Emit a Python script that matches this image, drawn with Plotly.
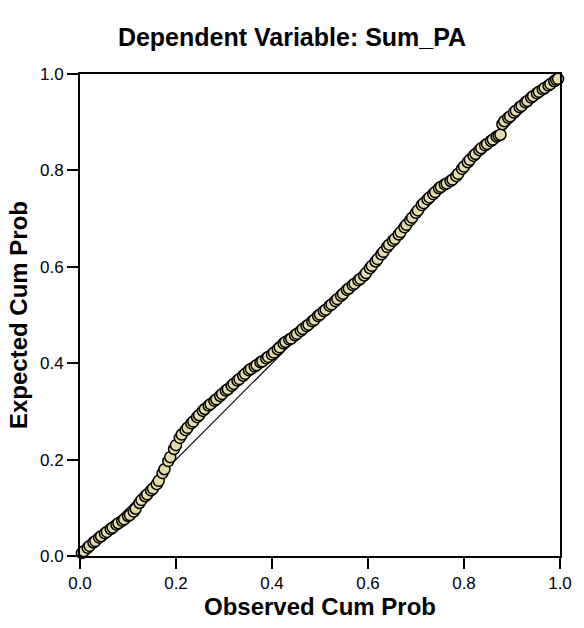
import plotly.graph_objects as go

observed_cum_prob = [
    0.004, 0.008, 0.016, 0.020, 0.028, 0.032, 0.040, 0.044, 0.052, 0.056,
    0.064, 0.068, 0.076, 0.080, 0.088, 0.092, 0.100, 0.104, 0.112, 0.116,
    0.124, 0.128, 0.136, 0.140, 0.148, 0.152, 0.160, 0.164, 0.172, 0.176,
    0.184, 0.188, 0.196, 0.200, 0.208, 0.212, 0.220, 0.224, 0.232, 0.236,
    0.244, 0.248, 0.256, 0.260, 0.268, 0.272, 0.280, 0.284, 0.292, 0.296,
    0.304, 0.308, 0.316, 0.320, 0.328, 0.332, 0.340, 0.344, 0.352, 0.356,
    0.364, 0.368, 0.376, 0.380, 0.388, 0.392, 0.400, 0.404, 0.412, 0.416,
    0.424, 0.428, 0.436, 0.440, 0.448, 0.452, 0.460, 0.464, 0.472, 0.476,
    0.484, 0.488, 0.496, 0.500, 0.508, 0.512, 0.520, 0.524, 0.532, 0.536,
    0.544, 0.548, 0.556, 0.560, 0.568, 0.572, 0.580, 0.584, 0.592, 0.596,
    0.604, 0.608, 0.616, 0.620, 0.628, 0.632, 0.640, 0.644, 0.652, 0.656,
    0.664, 0.668, 0.676, 0.680, 0.688, 0.692, 0.700, 0.704, 0.712, 0.716,
    0.724, 0.728, 0.736, 0.740, 0.748, 0.752, 0.760, 0.764, 0.772, 0.776,
    0.784, 0.788, 0.796, 0.800, 0.808, 0.812, 0.820, 0.824, 0.832, 0.836,
    0.844, 0.848, 0.856, 0.860, 0.868, 0.872, 0.876, 0.880, 0.884, 0.892,
    0.896, 0.904, 0.908, 0.916, 0.920, 0.928, 0.932, 0.940, 0.944, 0.952,
    0.956, 0.964, 0.968, 0.976, 0.980, 0.988, 0.992, 0.996,
]

expected_cum_prob = [
    0.006, 0.010, 0.017, 0.021, 0.028, 0.031, 0.038, 0.041, 0.047, 0.050,
    0.056, 0.059, 0.065, 0.068, 0.073, 0.076, 0.083, 0.085, 0.092, 0.098,
    0.110, 0.116, 0.124, 0.128, 0.136, 0.140, 0.149, 0.156, 0.172, 0.180,
    0.197, 0.205, 0.222, 0.230, 0.245, 0.252, 0.261, 0.266, 0.275, 0.279,
    0.288, 0.292, 0.301, 0.305, 0.312, 0.315, 0.322, 0.325, 0.332, 0.336,
    0.343, 0.346, 0.353, 0.357, 0.364, 0.367, 0.374, 0.378, 0.385, 0.388,
    0.393, 0.396, 0.402, 0.404, 0.410, 0.413, 0.418, 0.422, 0.429, 0.433,
    0.441, 0.444, 0.449, 0.451, 0.458, 0.461, 0.467, 0.471, 0.477, 0.480,
    0.487, 0.490, 0.498, 0.501, 0.508, 0.511, 0.519, 0.522, 0.529, 0.533,
    0.540, 0.544, 0.552, 0.555, 0.562, 0.565, 0.572, 0.575, 0.582, 0.587,
    0.597, 0.602, 0.611, 0.616, 0.626, 0.631, 0.641, 0.646, 0.654, 0.658,
    0.667, 0.672, 0.682, 0.687, 0.697, 0.702, 0.712, 0.717, 0.728, 0.732,
    0.740, 0.744, 0.751, 0.755, 0.763, 0.766, 0.771, 0.773, 0.778, 0.781,
    0.788, 0.793, 0.803, 0.808, 0.817, 0.822, 0.830, 0.834, 0.842, 0.846,
    0.852, 0.855, 0.861, 0.864, 0.870, 0.872, 0.874, 0.896, 0.902, 0.909,
    0.912, 0.920, 0.924, 0.931, 0.934, 0.941, 0.944, 0.951, 0.954, 0.960,
    0.963, 0.968, 0.971, 0.976, 0.979, 0.985, 0.988, 0.990,
]

ref_line = [0.0, 1.0]
tick_vals = [0.0, 0.2, 0.4, 0.6, 0.8, 1.0]
tick_text = ["0.0", "0.2", "0.4", "0.6", "0.8", "1.0"]

FONT = "Liberation Sans, Arial, Helvetica, sans-serif"

fig = go.Figure()
fig.add_trace(go.Scatter(
    x=ref_line, y=ref_line, mode="lines",
    line=dict(color="black", width=1.2),
    hoverinfo="skip", showlegend=False, cliponaxis=False,
))
fig.add_trace(go.Scatter(
    x=observed_cum_prob, y=expected_cum_prob, mode="markers",
    marker=dict(size=11, color="#e3dcaa", line=dict(color="black", width=1.5)),
    showlegend=False, cliponaxis=False,
))

axis_common = dict(
    range=[0, 1], tickvals=tick_vals, ticktext=tick_text,
    showgrid=False, zeroline=False, showline=True, mirror=True,
    linecolor="black", linewidth=2, ticks="outside", ticklen=11,
    tickwidth=2, tickcolor="black",
    tickfont=dict(family=FONT, size=17, color="black"),
)

fig.update_layout(
    width=584, height=628,
    margin=dict(l=80, r=14, t=74, b=64),
    paper_bgcolor="white", plot_bgcolor="white",
    title=dict(
        text="<b>Dependent Variable: Sum_PA</b>",
        x=0.5, xanchor="center", y=0.94, yanchor="middle",
        font=dict(family=FONT, size=25, color="black"),
    ),
    xaxis=dict(
        title=dict(text="<b>Observed Cum Prob</b>", standoff=6,
                   font=dict(family=FONT, size=24, color="black")),
        **axis_common,
    ),
    yaxis=dict(
        title=dict(text="<b>Expected Cum Prob</b>", standoff=6,
                   font=dict(family=FONT, size=24, color="black")),
        **axis_common,
    ),
)

fig.write_html("out.html")
